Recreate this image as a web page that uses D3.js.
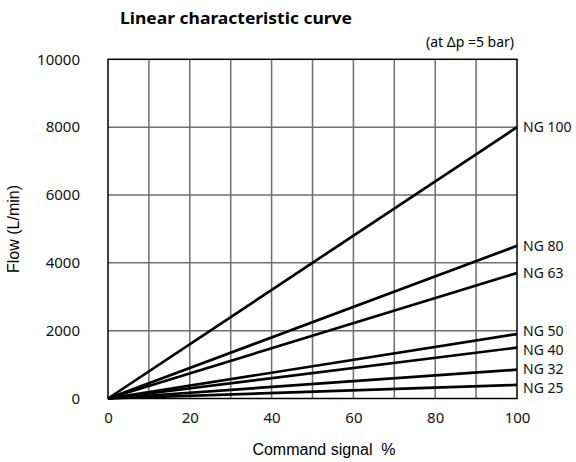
<!DOCTYPE html>
<html>
<head>
<meta charset="utf-8">
<script src="https://cdn.jsdelivr.net/npm/d3@7"></script>
<style>
  body { margin: 0; background: #fff; }
  svg { display: block; }
</style>
</head>
<body>
<svg id="chart"></svg>
<script>
const sizes    = ["NG 100", "NG 80", "NG 63", "NG 50", "NG 40", "NG 32", "NG 25"]
const endFlows = [8000, 4500, 3700, 1900, 1500, 850, 400]   // L/min at 100 % signal
const xTicks   = [0, 20, 40, 60, 80, 100]
const yTicks   = [0, 2000, 4000, 6000, 8000, 10000]
const xGrid    = [10, 20, 30, 40, 50, 60, 70, 80, 90]
const yGrid    = [2000, 4000, 6000, 8000]

const width = 576, height = 462
const plot = { left: 108, right: 517, top: 59.3, bottom: 398.5 }

const svg = d3.select("#chart")
    .attr("width", width)
    .attr("height", height)

const x = d3.scaleLinear().domain([0, 100]).range([plot.left, plot.right])
const y = d3.scaleLinear().domain([0, 10000]).range([plot.bottom, plot.top])

// grid
svg.append("g").selectAll("line")
    .data(xGrid)
    .enter().append("line")
    .attr("x1", d => x(d)).attr("x2", d => x(d))
    .attr("y1", plot.top).attr("y2", plot.bottom)
    .attr("stroke", "#6e6e6e").attr("stroke-width", 1.5)

svg.append("g").selectAll("line")
    .data(yGrid)
    .enter().append("line")
    .attr("x1", plot.left).attr("x2", plot.right)
    .attr("y1", d => y(d)).attr("y2", d => y(d))
    .attr("stroke", "#6e6e6e").attr("stroke-width", 1.5)

// frame
svg.append("rect")
    .attr("x", plot.left).attr("y", plot.top)
    .attr("width", plot.right - plot.left)
    .attr("height", plot.bottom - plot.top)
    .attr("fill", "none")
    .attr("stroke", "#000").attr("stroke-width", 1.5)

// axes (labels only)
const xAxis = svg.append("g")
    .attr("transform", `translate(0,${plot.bottom})`)
    .call(d3.axisBottom(x).tickValues(xTicks).tickSize(0).tickPadding(14))
const yAxis = svg.append("g")
    .attr("transform", `translate(${plot.left},0)`)
    .call(d3.axisLeft(y).tickValues(yTicks).tickSize(0).tickPadding(28).tickFormat(d3.format("d")))

;[xAxis, yAxis].forEach(a => {
    a.select(".domain").remove()
    a.selectAll("text")
        .attr("font-family", "'Noto Sans', sans-serif")
        .attr("font-size", 15)
        .attr("fill", "#111")
})

// lines
const line = d3.line().x(d => x(d[0])).y(d => y(d[1]))
svg.append("g").selectAll("path")
    .data(endFlows)
    .enter().append("path")
    .attr("d", d => line([[0, 0], [100, d]]))
    .attr("fill", "none")
    .attr("stroke", "#000")
    .attr("stroke-width", 2.7)

// labels, spread so they don't collide
const labelY = endFlows.map(d => y(d))
const gap = 19
for (let k = 0; k < 6; k++) {
    for (let i = 1; i < labelY.length; i++) {
        const diff = labelY[i] - labelY[i - 1]
        if (diff < gap) {
            const push = (gap - diff) / 2
            labelY[i - 1] -= push
            labelY[i] += push
        }
    }
}

svg.append("g").selectAll("text")
    .data(sizes)
    .enter().append("text")
    .attr("x", plot.right + 6)
    .attr("y", (d, i) => labelY[i])
    .attr("dy", "0.36em")
    .attr("font-family", "'Noto Sans', sans-serif")
    .attr("font-size", 14)
    .attr("fill", "#111")
    .text(d => d)

// titles
svg.append("text")
    .attr("x", 120).attr("y", 23.5)
    .attr("font-family", "'Noto Sans', sans-serif")
    .attr("font-weight", "bold")
    .attr("font-size", 16)
    .attr("textLength", 232)
    .attr("lengthAdjust", "spacingAndGlyphs")
    .text("Linear characteristic curve")

svg.append("text")
    .attr("x", 514).attr("y", 47)
    .attr("text-anchor", "end")
    .attr("font-family", "'Noto Sans', sans-serif")
    .attr("font-size", 14)
    .text("(at Δp =5 bar)")

svg.append("text")
    .attr("x", 324).attr("y", 455)
    .attr("text-anchor", "middle")
    .attr("font-family", "'Liberation Sans', Arial, sans-serif")
    .attr("font-size", 16)
    .style("white-space", "pre")
    .text("Command signal  %")

svg.append("text")
    .attr("transform", `translate(19,229) rotate(-90)`)
    .attr("text-anchor", "middle")
    .attr("font-family", "'Liberation Sans', Arial, sans-serif")
    .attr("font-size", 16)
    .text("Flow (L/min)")
</script>
</body>
</html>
